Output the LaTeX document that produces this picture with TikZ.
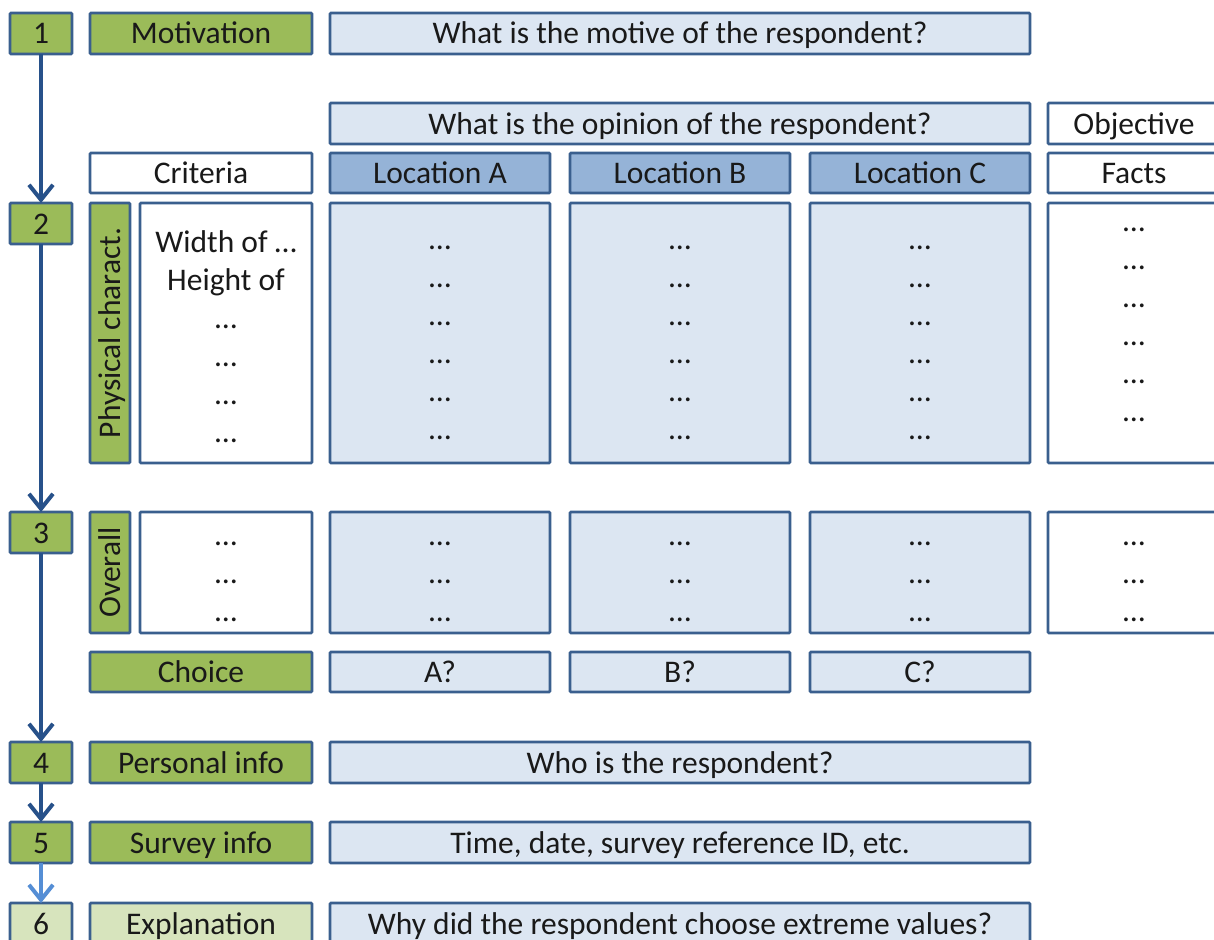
\documentclass[tikz,border=0pt]{standalone}
\usepackage{fontspec}
\setmainfont{Carlito}
\usetikzlibrary{arrows.meta}
\definecolor{bord}{HTML}{3A5F8E}
\definecolor{gr}{HTML}{9BBB59}
\definecolor{lgr}{HTML}{D7E4BD}
\definecolor{lbl}{HTML}{DCE6F2}
\definecolor{mbl}{HTML}{95B3D7}
\definecolor{arr}{HTML}{27518A}
\definecolor{larr}{HTML}{558ED5}
\begin{document}
\begin{tikzpicture}[x=1pt,y=-1pt,
  box/.style={draw=bord,line width=2.6pt,inner sep=0pt,outer sep=0pt,rounded corners=1pt,
    font=\fontsize{31.5}{38}\selectfont,text=black!90,text height=24pt,text depth=3pt},
  gbox/.style={box,fill=gr},
  lgbox/.style={box,fill=lgr},
  bbox/.style={box,fill=lbl},
  mbox/.style={box,fill=mbl},
  wbox/.style={box,fill=white},
  numbox/.style={gbox,minimum width=62pt,minimum height=41pt},
  txt/.style={inner sep=0pt,font=\fontsize{31.5}{38}\selectfont,text=black!90,align=center},
  flow/.style={draw=arr,line width=4pt,-{Straight Barb[length=15pt,width=24pt,line width=4pt]}},
  lflow/.style={flow,draw=larr}
]
\useasboundingbox (0,0) rectangle (1214,939);
% row 1
\node[numbox] (n1) at (41,33.5) {1};
\node[gbox,minimum width=222pt,minimum height=41pt] (mot) at (201,33.5) {Motivation};
\node[bbox,minimum width=700pt,minimum height=41pt] (q1) at (680,33.5) {What is the motive of the respondent?};
% header rows
\node[bbox,minimum width=700pt,minimum height=41pt] (op) at (680,123.5) {What is the opinion of the respondent?};
\node[wbox,minimum width=172pt,minimum height=41pt] (obj) at (1134,123.5) {Objective};
\node[wbox,minimum width=222pt,minimum height=40pt] (crit) at (201,173) {Criteria};
\node[mbox,minimum width=220pt,minimum height=40pt] (locA) at (440,173) {Location A};
\node[mbox,minimum width=220pt,minimum height=40pt] (locB) at (680,173) {Location B};
\node[mbox,minimum width=220pt,minimum height=40pt] (locC) at (920,173) {Location C};
\node[wbox,minimum width=172pt,minimum height=40pt] (facts) at (1134,173) {Facts};
% row 2
\node[numbox] (n2) at (41,223.5) {2};
\node[gbox,rotate=90,minimum width=260pt,minimum height=40pt] (phys) at (110,333) {Physical charact.};
\node[wbox,minimum width=172pt,minimum height=260pt] (c2) at (226,333) {};
\node[txt] (c2t) at (226,337) {Width of …\\Height of\\…\\…\\…\\…};
\node[bbox,minimum width=220pt,minimum height=260pt] (a2) at (440,333) {};
\node[txt] (a2t) at (440,343) {…\\…\\…\\…\\…\\…};
\node[bbox,minimum width=220pt,minimum height=260pt] (b2) at (680,333) {};
\node[txt] (b2t) at (680,343) {…\\…\\…\\…\\…\\…};
\node[bbox,minimum width=220pt,minimum height=260pt] (cc2) at (920,333) {};
\node[txt] (cc2t) at (920,343) {…\\…\\…\\…\\…\\…};
\node[wbox,minimum width=172pt,minimum height=260pt] (f2) at (1134,333) {};
\node[txt] (f2t) at (1134,325) {…\\…\\…\\…\\…\\…};
% row 3
\node[numbox] (n3) at (41,532.5) {3};
\node[gbox,rotate=90,minimum width=121pt,minimum height=40pt] (over) at (110,572.5) {Overall};
\node[wbox,minimum width=172pt,minimum height=121pt] (c3) at (226,572.5) {};
\node[txt] (c3t) at (226,582) {…\\…\\…};
\node[bbox,minimum width=220pt,minimum height=121pt] (a3) at (440,572.5) {};
\node[txt] (a3t) at (440,582) {…\\…\\…};
\node[bbox,minimum width=220pt,minimum height=121pt] (b3) at (680,572.5) {};
\node[txt] (b3t) at (680,582) {…\\…\\…};
\node[bbox,minimum width=220pt,minimum height=121pt] (cc3) at (920,572.5) {};
\node[txt] (cc3t) at (920,582) {…\\…\\…};
\node[wbox,minimum width=172pt,minimum height=121pt] (f3) at (1134,572.5) {};
\node[txt] (f3t) at (1134,582) {…\\…\\…};
% choice
\node[gbox,minimum width=222pt,minimum height=40pt] (choice) at (201,672) {Choice};
\node[bbox,minimum width=220pt,minimum height=40pt] (ca) at (440,672) {A?};
\node[bbox,minimum width=220pt,minimum height=40pt] (cb) at (680,672) {B?};
\node[bbox,minimum width=220pt,minimum height=40pt] (cc) at (920,672) {C?};
% row 4
\node[numbox] (n4) at (41,762.5) {4};
\node[gbox,minimum width=222pt,minimum height=41pt] (pers) at (201,762.5) {Personal info};
\node[bbox,minimum width=700pt,minimum height=41pt] (who) at (680,762.5) {Who is the respondent?};
% row 5
\node[numbox] (n5) at (41,842.5) {5};
\node[gbox,minimum width=222pt,minimum height=41pt] (surv) at (201,842.5) {Survey info};
\node[bbox,minimum width=700pt,minimum height=41pt] (time) at (680,842.5) {Time, date, survey reference ID, etc.};
% row 6
\node[lgbox,minimum width=62pt,minimum height=41pt] (n6) at (41,923.5) {6};
\node[lgbox,minimum width=222pt,minimum height=41pt] (expl) at (201,923.5) {Explanation};
\node[bbox,minimum width=700pt,minimum height=41pt] (why) at (680,923.5) {Why did the respondent choose extreme values?};
% arrows
\draw[flow] (n1.south) -- (n2.north);
\draw[flow] (n2.south) -- (n3.north);
\draw[flow] (n3.south) -- (n4.north);
\draw[flow] (n4.south) -- (n5.north);
\draw[lflow] (n5.south) -- (n6.north);
\end{tikzpicture}
\end{document}
